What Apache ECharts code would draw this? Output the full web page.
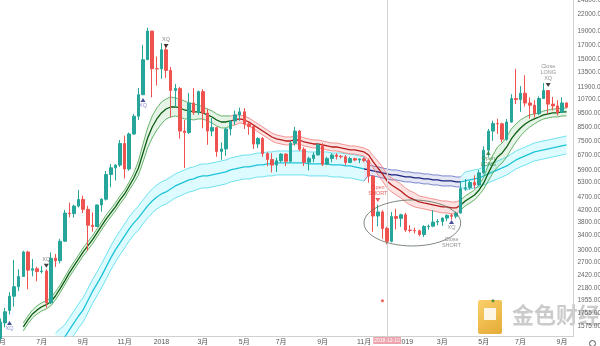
<!DOCTYPE html>
<html><head><meta charset="utf-8">
<script src="https://cdn.jsdelivr.net/npm/echarts@6/dist/echarts.min.js"></script>
<style>html,body{margin:0;padding:0;background:#fff}#c{width:600px;height:346px}</style>
</head><body><div id="c"></div>
<script>
// ---------- DATA ----------
const startWeek = '2017-05-01';
const weekCount = 125;
const opens = [1420,1620,1800,2030,2200,2400,2950,2530,2560,2500, 2510,1920,2800,2740,3230,4100,4080,4350,4600,4230, 3700,3660,4390,4610,5680,6010,6150,7380,5950,8000, 9300,11150,15000,19100,13900,13880,16300,13700,11550,11750, 8200,8100,10400,9600,11450,9550,8200,8450,6900,7050, 8350,8930,9400,9650,8700,8520,7350,7700,6780,6450, 6150,6380,6750,6350,7400,8200,7030,6300,6500,6700, 7300,6200,6500,6700,6620,6600,6290,6500,6420,6480, 6400,5600,4000,4140,3600,3230,3980,3920,4040,3550, 3540,3530,3420,3660,3670,3800,3820,3930,4020,3990, 4100,5040,5080,5310,5200,5760,6980,8200,8740,8720, 7650,8850,10800,10700,11300,10400,10200,9500,10800,11550, 10300,10140,9600,10400];
const closes = [1630,1780,2030,2200,2400,2950,2530,2560,2500,2510, 1920,2800,2740,3230,4100,4080,4350,4600,4230,3700, 3660,4390,4610,5680,6010,6150,7380,5950,8000,9300, 11150,15000,19100,13900,13880,16300,13700,11550,11750,8200, 8100,10400,9600,11450,9550,8200,8450,6900,7050,8350, 8930,9400,9650,8700,8520,7350,7700,6780,6450,6150, 6380,6750,6350,7400,8200,7030,6300,6500,6700,7300, 6200,6500,6700,6620,6600,6290,6500,6420,6480,6400, 5600,4000,4140,3600,3230,3980,3920,4040,3550,3540, 3530,3420,3660,3670,3800,3820,3930,4020,3990,4100, 5040,5080,5310,5200,5760,6980,8200,8740,8720,7650, 8850,10800,10700,11300,10400,10200,9500,10800,11550,10300, 10140,9600,10400,10026.95];
const lows = [1400,1560,1740,1860,2120,2390,2150,2400,2300,2460, 1840,1900,2600,2680,3220,3950,3950,4300,4100,2980, 3500,3650,4150,4560,5100,5400,6050,5500,5860,7950, 9000,11150,15000,10900,12050,12750,12850,9200,10000,7700, 6000,8000,9400,9400,8400,7300,7850,6600,6430,6650, 7900,8650,8950,8350,7950,7050,7100,6600,6100,5780, 5800,6300,6100,6300,7250,6920,6100,5880,6300,6700, 6100,6150,6300,6450,6500,6150,6250,6350,6250,6300, 5300,3500,3660,3300,3150,3200,3570,3650,3500,3480, 3450,3370,3350,3560,3640,3700,3680,3830,3880,3920, 4090,4950,5000,5040,5150,5690,6600,7550,8000,7450, 7560,8800,10300,9650,10100,9100,9200,9400,10800,9500, 9750,9350,9550,9950];
const highs = [1680,1840,2100,2760,2550,2980,2980,2780,2600,2620, 2550,2940,2900,3300,4210,4480,4400,4980,4750,4360, 4120,4410,4650,5850,6200,6200,7600,7890,8100,9480, 11800,17000,19650,19100,15400,17250,17150,14100,12200,11900, 9000,11300,11800,11550,11700,9900,9150,8500,7450,8430, 9000,9750,10000,9950,8880,8550,7780,7800,6850,6800, 6550,6800,6800,7550,8500,8280,7150,6600,6850,7400, 7400,6600,6800,6800,6700,6700,6600,6550,6500,6560, 6500,5650,4400,4200,3650,4140,4250,4080,4110,3700, 3620,3560,3700,3720,4200,3900,3950,4060,4080,4150, 5350,5470,5380,5640,5900,7200,8350,8950,9100,8800, 9080,11200,13880,12000,13150,10900,10650,11000,12300,11550, 10950,10650,10900,10450];

const N5 = [null,null,null,null,null];
const fastMid = N5.concat([1566,1662,1747,1808,1857, 1889,1937,2038,2163,2311,2472,2624,2781,2952,3105, 3267,3466,3677,3902,4104,4318,4581,4819,5156,5517, 6004,6815,7736,8489,9085,9557,9885,10054,10054,9969, 9802,9719,9638,9638,9557,9397,9239,9007,8856,8856, 8931,9007,9085,9007,8856,8634,8418,8207,8002,7801, 7671,7606,7542,7542,7606,7606,7478,7415,7353,7353, 7291,7230,7169,7169,7108,7049,6990,6990,6931,6873, 6701,6316,6004,5708,5379,5200,5070,4943,4779,4659, 4581,4504,4466,4429,4392,4355,4318,4318,4282,4282, 4392,4542,4659,4779,4985,5290,5756,6210,6589,6815, 7169,7671,8070,8418,8708,8931,9085,9239,9397,9476, 9557,9557,9638,9638]);
const fastUp = N5.concat([1620,1717,1808,1873,1921, 1953,2004,2109,2234,2389,2555,2712,2878,3053,3212, 3379,3585,3804,4036,4246,4466,4738,4985,5334,5756, 6370,7353,8418,9318,9969,10488,10759,10942,10850,10759, 10577,10400,10312,10225,10054,9885,9719,9476,9318,9318, 9318,9397,9397,9318,9162,8931,8708,8489,8277,8070, 7934,7867,7801,7801,7867,7867,7736,7671,7606,7606, 7542,7478,7415,7415,7353,7291,7230,7230,7169,7108, 6990,6645,6370,6055,5708,5517,5379,5245,5070,4943, 4860,4738,4699,4659,4620,4581,4542,4542,4504,4504, 4581,4738,4860,4985,5200,5564,6158,6701,7169,7415, 7801,8347,8708,9007,9239,9397,9476,9557,9719,9802, 9885,9885,9969,9969]);
const fastLo = N5.concat([1514,1607,1690,1747,1793, 1823,1873,1970,2091,2234,2389,2535,2689,2854,3003, 3158,3351,3555,3772,3968,4174,4429,4659,4985,5290, 5659,6316,7108,7736,8277,8708,9085,9239,9318,9239, 9085,9085,9007,9085,9085,8931,8782,8561,8418,8418, 8561,8634,8782,8708,8561,8347,8138,7934,7736,7542, 7415,7353,7291,7291,7353,7353,7230,7169,7108,7108, 7049,6990,6931,6931,6873,6815,6758,6758,6701,6645, 6424,6004,5659,5379,5070,4901,4779,4659,4504,4392, 4318,4282,4246,4209,4174,4139,4104,4104,4070,4070, 4209,4355,4466,4581,4779,5027,5379,5756,6055,6263, 6589,7049,7478,7867,8207,8489,8708,8931,9085,9162, 9239,9239,9318,9318]);

const N12 = N5.concat([null,null,null,null,null,null,null]);
const slowMid = N12.concat([1345,1391,1438,1527,1620,1717,1808,1953, 2109,2253,2410,2601,2806,3003,3185,3379,3585,3772, 3935,4139,4355,4542,4699,4819,4901,5027,5156,5245, 5334,5425,5471,5564,5612,5612,5659,5708,5756,5805, 5904,5953,6004,6055,6055,6106,6158,6158,6210,6210, 6263,6263,6263,6263,6263,6263,6263,6210,6210,6210, 6210,6210,6158,6158,6158,6106,6106,6055,6004,5953, 5904,5854,5805,5756,5708,5659,5659,5612,5564,5564, 5517,5517,5471,5471,5425,5425,5379,5379,5379,5334, 5334,5379,5425,5471,5517,5612,5708,5805,5904,6004, 6106,6263,6424,6533,6645,6758,6873,6931,6990,7049, 7108,7169,7230,7291]);
const slowUp = N12.concat([1489,1540,1593,1690,1793,1905,2004,2163, 2331,2492,2669,2878,3105,3323,3525,3740,3968,4174, 4355,4581,4819,5027,5200,5334,5425,5564,5708,5805, 5904,6004,6055,6158,6210,6210,6263,6316,6370,6424, 6533,6589,6645,6701,6701,6758,6815,6815,6873,6873, 6931,6931,6931,6931,6931,6931,6931,6873,6873,6873, 6873,6873,6815,6815,6815,6758,6758,6701,6645,6589, 6158,6106,6055,6004,5953,5904,5904,5854,5805,5805, 5756,5756,5708,5708,5659,5659,5612,5612,5612,5564, 5564,5805,5854,5904,5953,6055,6158,6263,6370,6478, 6589,6758,6931,7049,7169,7291,7415,7478,7542,7606, 7671,7736,7801,7867]);
const slowLo = N12.concat([1215,1257,1300,1379,1463,1553,1634,1762, 1905,2038,2178,2351,2535,2712,2878,3053,3240,3408, 3555,3740,3935,4104,4246,4355,4429,4542,4659,4738, 4819,4901,4943,5027,5070,5070,5113,5156,5200,5245, 5334,5379,5425,5471,5471,5517,5564,5564,5612,5612, 5659,5659,5659,5659,5659,5659,5659,5612,5612,5612, 5612,5612,5564,5564,5564,5517,5517,5471,5425,5379, 5659,5612,5564,5517,5471,5425,5425,5379,5334,5334, 5290,5290,5245,5245,5200,5200,5156,5156,5156,5113, 5113,4985,5027,5070,5113,5200,5290,5379,5471,5564, 5659,5805,5953,6055,6158,6263,6370,6424,6478,6533, 6589,6645,6701,6758]);

// colour regimes: [firstWeek, lastWeek, regime]
const fastRegimes = [[5,50,'g'],[50,100,'r'],[100,123,'g']];
const slowRegimes = [[12,79,'c'],[79,100,'b'],[100,123,'c']];

const yTicks = [24800,22000,19000,17000,15000,13500,11900,10700,9500,8500,7500,6700,5900,5300,4700,4200,3800,3400,3000,2700,2420,2180,1955,1755,1575];
const yRange = [1450, 24840];
const lastPrice = 10026.95;
const crossWeek = '2018-12-10';

const signals = [
  {k:2,  price:1620,  dir:'up',   color:'#1a237e', text:'XQ', textColor:'#6a74c9'},
  {k:10, price:2624,  dir:'down', color:'#111',    text:'XQ', textColor:'#666'},
  {k:31, price:10667, dir:'up',   color:'#1a237e', text:'XQ', textColor:'#6a74c9'},
  {k:36, price:16840, dir:'down', color:'#111',    text:'XQ', textColor:'#666'},
  {k:82, price:4581,  dir:'down', color:'#e53935', text:'Open\nSHORT', textColor:'#e53935'},
  {k:98, price:3804,  dir:'up',   color:'#1a237e', text:'XQ\n\nClose\nSHORT', textColor:'#777'},
  {k:106,price:6815,  dir:'up',   color:'#2e7d32', text:'Open\nLONG', textColor:'#2e7d32'},
  {k:119,price:12110, dir:'down', color:'#111',    text:'Close\nLONG\nXQ', textColor:'#777'}
];
const dots = [{k:83, price:1953, color:'#e53935'},{k:107, price:1953, color:'#2e7d32'}];
const ellipseBox = {k0:79, k1:100, top:4581, bottom:3105};

// ---------- BUILD ----------
const L = Math.log;
const cats = [];
{ const t0 = Date.parse(startWeek + 'T00:00:00Z');
  for (let i = 0; i < weekCount; i++) cats.push(new Date(t0 + i*7*86400000).toISOString().slice(0,10)); }

const FONT = '"Liberation Sans","Noto Sans CJK SC",sans-serif';
const styles = {
  g:{edge:'#43a047', mid:'#0b5d12', fill:'rgba(102,187,106,0.16)'},
  r:{edge:'#ef7b78', mid:'#b71c1c', fill:'rgba(239,83,80,0.17)'},
  c:{edge:'#4dd9ec', mid:'#1cc3d8', fill:'rgba(0,229,255,0.13)'},
  b:{edge:'#5c6bc0', mid:'#1a237e', fill:'rgba(92,107,192,0.16)'}
};
function pick(arr, a, b, f){ return arr.map((v,i)=> (i>=a && i<=b && v!=null) ? f(v,i) : '-'); }
function bandSeries(name, mid, up, lo, regimes, z){
  const out = [];
  regimes.forEach(([a,b,c], j) => {
    const st = styles[c], stack = name + j;
    out.push({type:'line', stack, data: pick(lo,a,b,v=>L(v)), symbol:'none', silent:true, z,
      lineStyle:{width:0, opacity:0}});
    out.push({type:'line', stack, data: pick(lo,a,b,(v,i)=>L(up[i])-L(v)), symbol:'none', silent:true, z,
      lineStyle:{width:0, opacity:0}, areaStyle:{color:st.fill, opacity:1}});
    [[up,st.edge,0.8],[lo,st.edge,0.8],[mid,st.mid,1.3]].forEach(([arr,col,w]) => {
      out.push({type:'line', data: pick(arr,a,b,v=>L(v)), symbol:'none', silent:true, z:z+1,
        lineStyle:{color:col, width:w}});
    });
  });
  return out;
}

const candleData = opens.map((o,i)=>[L(o), L(closes[i]), L(lows[i]), L(highs[i])]);

const signalSeries = {
  type:'scatter', z:6, silent:true,
  data: signals.map(s => ({
    value:[s.k, L(s.price)], symbol:'triangle', symbolSize:[5,4],
    symbolRotate: s.dir === 'down' ? 180 : 0,
    itemStyle:{color:s.color},
    label:{show:true, position: s.dir === 'down' ? 'top' : 'bottom', formatter:s.text,
      color:s.textColor, fontSize:5.5, lineHeight:6, distance:1, fontFamily:FONT}
  }))
};
const dotSeries = {
  type:'scatter', z:6, silent:true, symbolSize:3,
  data: dots.map(d => ({value:[d.k, L(d.price)], itemStyle:{color:d.color}}))
};

const option = {
  animation:false,
  backgroundColor:'#ffffff',
  grid:{left:-2, right:26.5, top:0, bottom:10, containLabel:false, outerBoundsMode:'none'},
  xAxis:{
    type:'category', data:cats, boundaryGap:true,
    axisLine:{show:true, lineStyle:{color:'#d0d0d0', width:1}},
    axisTick:{show:false}, splitLine:{show:false},
    axisLabel:{
      fontSize:7, color:'#555', margin:3, fontFamily:FONT, hideOverlap:false,
      interval:(i, v) => { const m = +v.slice(5,7), d = +v.slice(8,10); return d <= 7 && m % 2 === 1; },
      formatter:v => { const m = +v.slice(5,7); return m === 1 ? v.slice(0,4) : m + '月'; }
    }
  },
  yAxis:{
    type:'value', position:'right', min:L(yRange[0]), max:L(yRange[1]),
    axisLine:{show:true, lineStyle:{color:'#d0d0d0', width:1}},
    axisTick:{show:false}, splitLine:{show:false},
    axisLabel:{
      customValues: yTicks.map(v=>L(v)),
      formatter:v => Math.round(Math.exp(v)).toFixed(2),
      fontSize:6.5, color:'#666', margin:4, fontFamily:FONT
    }
  },
  series:[
    ...bandSeries('slow', slowMid, slowUp, slowLo, slowRegimes, 1),
    ...bandSeries('fast', fastMid, fastUp, fastLo, fastRegimes, 3),
    {
      type:'candlestick', z:5, data:candleData, barWidth:3, silent:true,
      itemStyle:{color:'#26a69a', color0:'#ef5350', borderColor:'#26a69a', borderColor0:'#ef5350', borderWidth:1},
      markLine:{
        symbol:'none', silent:true, animation:false,
        data:[
          {xAxis:crossWeek, lineStyle:{color:'#d4d4d4', width:1, type:'solid'},
           label:{show:true, position:'start', formatter:crossWeek, backgroundColor:'#eda3ab',
                  color:'#fff', fontSize:5, padding:[1,1,1,1], distance:1, fontFamily:FONT}},
          {yAxis:L(lastPrice), lineStyle:{opacity:0},
           label:{show:true, position:'end', formatter:lastPrice.toFixed(2), backgroundColor:'#ef5350',
                  color:'#fff', fontSize:6.5, padding:[1,3,1,2], distance:1, fontFamily:FONT}}
        ]
      }
    },
    signalSeries, dotSeries
  ]
};

const chart = echarts.init(document.getElementById('c'), null, {renderer:'canvas'});
chart.setOption(option);

const pA = chart.convertToPixel({gridIndex:0}, [ellipseBox.k0, L(ellipseBox.top)]);
const pB = chart.convertToPixel({gridIndex:0}, [ellipseBox.k1, L(ellipseBox.bottom)]);
chart.setOption({
  graphic:[
    {type:'ellipse', z:10, silent:true,
     shape:{cx:(pA[0]+pB[0])/2, cy:(pA[1]+pB[1])/2, rx:Math.abs(pB[0]-pA[0])/2, ry:Math.abs(pB[1]-pA[1])/2},
     style:{fill:'none', stroke:'#5d6b5d', lineWidth:0.8}},
    {type:'group', left:478, top:300, z:20, silent:true, children:[
      {type:'rect', shape:{x:0, y:2, width:24, height:34, r:2},
       style:{fill:new echarts.graphic.LinearGradient(0,0,1,1,[{offset:0,color:'#f9c74f'},{offset:1,color:'#e09b12'}]), opacity:0.85}},
      {type:'rect', shape:{x:6, y:10, width:12, height:12}, style:{fill:'rgba(255,255,255,0.85)'}},
      {type:'text', x:34, y:6, style:{text:'金色财经', fill:'rgba(185,185,185,0.75)', font:'bold 22px "Noto Sans CJK SC"',
        stroke:'rgba(255,255,255,0.6)', lineWidth:1}}
    ]},
    {type:'circle', left:587, top:338, silent:true, shape:{r:3}, style:{fill:'none', stroke:'#555', lineWidth:1}}
  ]
});
</script>
</body></html>
